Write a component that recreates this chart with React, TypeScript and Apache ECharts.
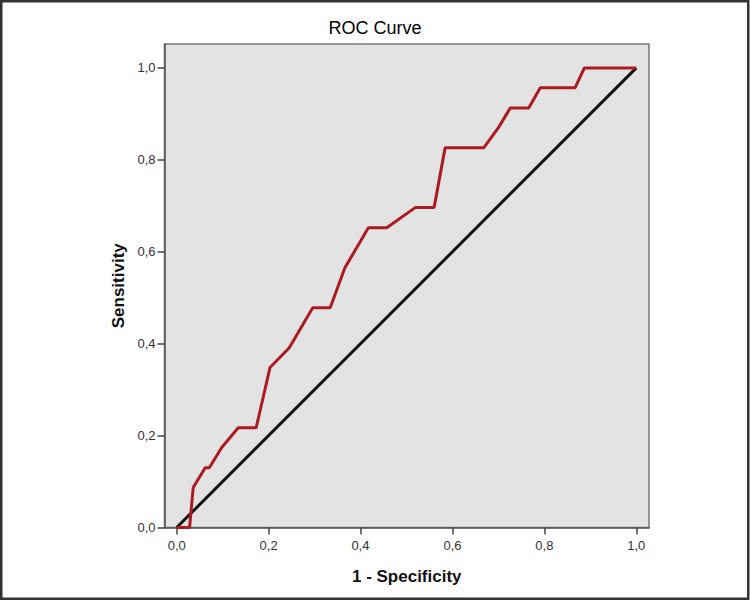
import React, { useEffect, useRef } from "react";
import * as echarts from "echarts";

const fpr = [0, 0.028, 0.036, 0.062, 0.071, 0.098, 0.134, 0.173, 0.203, 0.245, 0.296, 0.334, 0.366, 0.417, 0.457, 0.519, 0.56, 0.584, 0.668, 0.7, 0.726, 0.766, 0.791, 0.867, 0.887, 1.0];
const tpr = [0, 0, 0.087, 0.13, 0.13, 0.174, 0.217, 0.217, 0.348, 0.391, 0.478, 0.478, 0.565, 0.652, 0.652, 0.696, 0.696, 0.826, 0.826, 0.87, 0.913, 0.913, 0.957, 0.957, 1.0, 1.0];
const refX = [0, 1];
const refY = [0, 1];
const tickValues = [0, 0.2, 0.4, 0.6, 0.8, 1.0];

const fmt = (v: number) => v.toFixed(1).replace(".", ",");
const FONT = "Liberation Sans, Arial, sans-serif";

export default function App() {
  const ref = useRef<HTMLDivElement>(null);
  useEffect(() => {
    if (!ref.current) return;
    const chart = echarts.init(ref.current, null, { renderer: "svg" });
    const axisCommon = {
      axisLine: { show: true, onZero: false, lineStyle: { color: "#555", width: 1.5 } },
      axisTick: { show: true, inside: false, length: 7, customValues: tickValues, lineStyle: { color: "#444", width: 1.5 } },
      axisLabel: { customValues: tickValues, formatter: (v: number) => fmt(v), color: "#333", fontSize: 13, fontFamily: FONT },
      splitLine: { show: false },
      nameTextStyle: { fontSize: 17, fontWeight: "bold", color: "#111", fontFamily: FONT },
    };
    chart.setOption({
      animation: false,
      backgroundColor: "#ffffff",
      title: {
        text: "ROC Curve",
        left: "center",
        top: 14,
        textStyle: { fontSize: 18, fontWeight: "normal", color: "#000", fontFamily: FONT },
      },
      grid: {
        left: 164.5,
        top: 44,
        width: 484.5,
        height: 483.5,
        show: true,
        backgroundColor: "#e3e3e3",
        borderColor: "#7a7a7a",
        borderWidth: 1.5,
      },
      xAxis: {
        type: "value",
        min: -0.0265,
        max: 1.0276,
        name: "1 - Specificity",
        nameLocation: "middle",
        nameGap: 40,
        ...axisCommon,
        axisLabel: { ...axisCommon.axisLabel, margin: 11 },
      },
      yAxis: {
        type: "value",
        min: 0,
        max: 1.052,
        name: "Sensitivity",
        nameLocation: "middle",
        nameGap: 37,
        ...axisCommon,
        axisLabel: { ...axisCommon.axisLabel, margin: 9 },
      },
      graphic: [
        {
          type: "rect",
          shape: { x: 1.25, y: 1.25, width: 747, height: 597.5 },
          style: { fill: "none", stroke: "#333", lineWidth: 2.5 },
          silent: true,
        },
      ],
      series: [
        {
          type: "line",
          data: refX.map((x, i) => [x, refY[i]]),
          symbol: "none",
          lineStyle: { color: "#111", width: 3 },
          z: 2,
        },
        {
          type: "line",
          data: fpr.map((x, i) => [x, tpr[i]]),
          symbol: "none",
          lineStyle: { color: "#aa1c22", width: 3 },
          z: 3,
        },
      ],
    });
    return () => chart.dispose();
  }, []);
  return <div ref={ref} style={{ position: "fixed", left: 0, top: 0, width: 750, height: 601 }} />;
}
